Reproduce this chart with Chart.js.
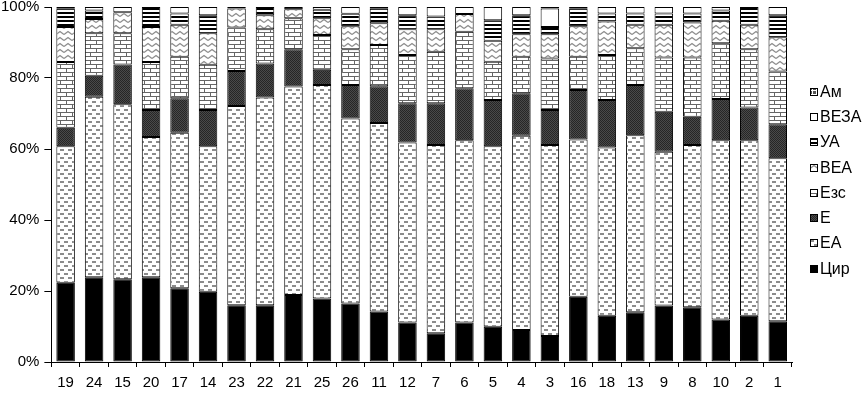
<!DOCTYPE html>
<html>
<head>
<meta charset="utf-8">
<script src="https://cdn.jsdelivr.net/npm/chart.js@4.4.1/dist/chart.umd.min.js"></script>
<style>
  html, body { margin: 0; padding: 0; background: #fff; }
  #wrap { width: 868px; height: 395px; position: relative; }
  #legend {
    position: absolute;
    left: 810px;
    top: 79px;
    font-family: 'Liberation Sans', Arial, sans-serif;
    font-size: 16px;
    color: #000;
  }
  .item { display: flex; align-items: center; height: 25.3px; }
  .item canvas { width: 8px; height: 8px; margin-right: 2px; }
</style>
</head>
<body>
<div id="wrap"><canvas id="chart"></canvas><div id="legend"></div></div>
<script>
const samples = ['19', '24', '15', '20', '17', '14', '23', '22', '21', '25', '26', '11', '12',
  '7', '6', '5', '4', '3', '16', '18', '13', '9', '8', '10', '2', '1']

// shares in %, bottom to top
const cir  = [22.3, 23.9, 23.3, 23.9, 20.8, 19.8, 16.0, 16.0, 18.9, 17.9, 16.5, 14.2, 11.1, 8.1, 11.1, 9.9, 9.0, 7.3, 18.4, 13.0, 14.0, 15.9, 15.4, 12.0, 13.0, 11.5]
const ea   = [38.5, 50.8, 49.3, 39.5, 43.8, 41.0, 56.1, 58.5, 58.7, 60.1, 52.1, 53.1, 50.7, 53.0, 51.4, 50.9, 54.7, 53.8, 44.3, 47.4, 49.9, 43.3, 45.7, 50.5, 49.5, 45.9]
const e    = [5.2, 5.9, 11.2, 7.6, 9.7, 10.2, 9.9, 9.6, 10.5, 4.3, 9.4, 10.4, 11.1, 11.8, 14.6, 13.0, 12.0, 9.9, 13.9, 13.4, 14.1, 11.3, 8.0, 11.6, 9.2, 9.6]
const ezs  = [18.5, 12.0, 8.8, 13.5, 11.7, 12.7, 12.2, 9.6, 8.7, 9.8, 10.1, 11.6, 13.6, 14.5, 15.9, 10.8, 10.3, 14.5, 9.4, 12.7, 10.4, 15.3, 16.7, 15.7, 16.4, 14.8]
const vea  = [9.9, 4.0, 5.9, 9.9, 9.0, 8.9, 5.4, 4.0, 2.6, 4.7, 6.5, 6.1, 7.2, 6.3, 5.0, 5.9, 6.3, 6.8, 8.6, 9.4, 6.6, 9.2, 9.8, 6.3, 6.9, 9.7]
const ua   = [5.1, 2.4, 0, 5.6, 3.2, 5.1, 0.4, 2.3, 0.6, 2.4, 3.5, 4.1, 4.0, 3.6, 0, 5.8, 5.4, 2.1, 4.9, 2.3, 3.2, 3.2, 2.6, 2.9, 5.0, 6.2]
const veza = [0, 1.0, 1.5, 0, 1.8, 2.3, 0, 0, 0, 0.8, 1.9, 0.5, 2.3, 2.7, 2.0, 3.7, 2.3, 5.2, 0, 1.8, 1.8, 1.8, 1.8, 1.0, 0, 2.3]
const am   = [0.5, 0, 0, 0, 0, 0, 0, 0, 0, 0, 0, 0, 0, 0, 0, 0, 0, 0.4, 0.5, 0, 0, 0, 0, 0, 0, 0]

const yTicks = [0, 20, 40, 60, 80, 100]

// small canvas tiles used as fill patterns
function drawTile(w, h, draw) {
  const c = document.createElement('canvas')
  c.width = w
  c.height = h
  draw(c.getContext('2d'))
  return c
}

function makePattern(w, h, draw) {
  return document.createElement('canvas').getContext('2d').createPattern(drawTile(w, h, draw), 'repeat')
}

const patEA = makePattern(8, 8, (g) => {
  g.fillStyle = '#fff'
  g.fillRect(0, 0, 8, 8)
  g.fillStyle = '#8c8c8c'
  g.fillRect(0, 1, 4, 2)
  g.fillRect(4, 5, 4, 2)
})

const patE = makePattern(2, 2, (g) => {
  g.fillStyle = '#4a4a4a'
  g.fillRect(0, 0, 2, 2)
  g.fillStyle = '#262626'
  g.fillRect(0, 0, 1, 1)
  g.fillRect(1, 1, 1, 1)
})

const patEzs = makePattern(12, 8, (g) => {
  g.fillStyle = '#fff'
  g.fillRect(0, 0, 12, 8)
  g.fillStyle = '#666'
  g.fillRect(0, 0, 12, 1)
  g.fillRect(0, 4, 12, 1)
  g.fillRect(0, 0, 1, 4)
  g.fillRect(6, 4, 1, 4)
})

const patVEA = makePattern(8, 6, (g) => {
  g.fillStyle = '#fff'
  g.fillRect(0, 0, 8, 6)
  g.strokeStyle = '#8c8c8c'
  g.lineWidth = 1.3
  g.beginPath()
  g.moveTo(0, 4.5)
  g.lineTo(4, 1.5)
  g.lineTo(8, 4.5)
  g.stroke()
})

const patUA = makePattern(1, 4, (g) => {
  g.fillStyle = '#fff'
  g.fillRect(0, 0, 1, 4)
  g.fillStyle = '#000'
  g.fillRect(0, 0, 1, 2)
})

const patAm = makePattern(4, 4, (g) => {
  g.fillStyle = '#555'
  g.fillRect(0, 0, 4, 4)
  g.fillStyle = '#fff'
  g.fillRect(0, 2, 4, 1)
  g.fillRect(2, 0, 1, 4)
})

function series(label, data, fill) {
  return {
    label: label,
    data: data,
    backgroundColor: fill,
    borderColor: '#000',
    borderWidth: 1,
    borderSkipped: false,
    barPercentage: 0.65,
    categoryPercentage: 1,
  }
}

Chart.defaults.font.family = "'Liberation Sans', Arial, sans-serif"
Chart.defaults.font.size = 15
Chart.defaults.color = '#000'

const chart = new Chart(document.getElementById('chart'), {
  type: 'bar',
  data: {
    labels: samples,
    datasets: [
      series('Цир', cir, '#000'),
      series('ЕА', ea, patEA),
      series('Е', e, patE),
      series('Езс', ezs, patEzs),
      series('ВЕА', vea, patVEA),
      series('УА', ua, patUA),
      series('ВЕЗА', veza, '#fff'),
      series('Ам', am, patAm),
    ],
  },
  options: {
    responsive: true,
    maintainAspectRatio: false,
    animation: false,
    layout: { padding: { top: 7, right: 76, bottom: -4, left: -4 } },
    plugins: {
      tooltip: { enabled: false },
      legend: { display: false },
    },
    scales: {
      x: {
        stacked: true,
        grid: { drawOnChartArea: false, tickLength: 5, color: '#000', offset: true },
        border: { color: '#000', width: 1 },
        ticks: { padding: 7, maxRotation: 0, autoSkip: false },
      },
      y: {
        stacked: true,
        min: 0,
        max: 100,
        afterBuildTicks: (axis) => {
          axis.ticks = yTicks.map((v) => ({ value: v }))
        },
        grid: { drawOnChartArea: false, tickLength: 7, color: '#000' },
        border: { color: '#000', width: 1 },
        ticks: {
          padding: 5,
          font: { size: 15, lineHeight: 0.2 },
          callback: (v) => v + '%',
        },
      },
    },
  },
})

// html legend, top entry = last dataset
const legend = document.getElementById('legend')
chart.data.datasets.slice().reverse().forEach((ds) => {
  const item = document.createElement('div')
  item.className = 'item'
  const box = drawTile(8, 8, (g) => {
    g.fillStyle = ds.backgroundColor
    g.fillRect(0, 0, 8, 8)
    g.strokeStyle = '#000'
    g.lineWidth = 1
    g.strokeRect(0.5, 0.5, 7, 7)
  })
  const text = document.createElement('span')
  text.textContent = ds.label
  item.appendChild(box)
  item.appendChild(text)
  legend.appendChild(item)
})
</script>
</body>
</html>
